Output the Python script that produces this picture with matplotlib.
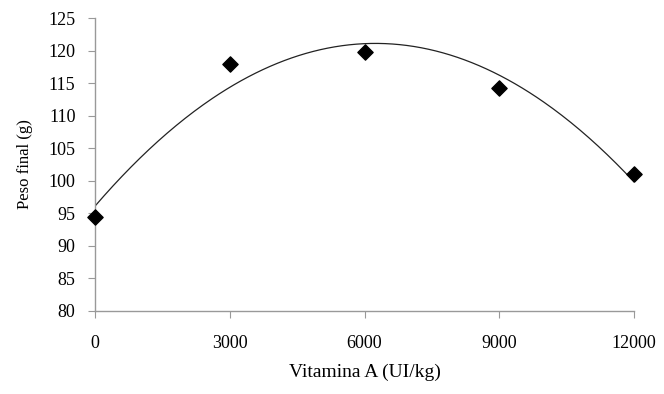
import numpy as np
import matplotlib
matplotlib.use('Agg')
import matplotlib.pyplot as plt

# Dados
vitamina_a = [0, 3000, 6000, 9000, 12000]
peso_final = [94.5, 118.0, 119.8, 114.3, 101.0]
x_ticks = [0, 3000, 6000, 9000, 12000]
y_ticks = list(range(80, 130, 5))

plt.rcParams['font.family'] = ['Liberation Serif', 'DejaVu Serif']

fig = plt.figure(figsize=(6.64, 3.94), dpi=100)
ax = fig.add_axes([0.143, 0.2107, 0.812, 0.7433])

# Ajuste polinomial de 2º grau (linha de tendência)
coef = np.polyfit(vitamina_a, peso_final, 2)
xs = np.linspace(min(vitamina_a), max(vitamina_a), 300)
ax.plot(xs, np.polyval(coef, xs), color='#222222', linewidth=0.9)

ax.scatter(vitamina_a, peso_final, marker='D', s=60, color='black', zorder=3, clip_on=False)

ax.set_xlim(0, 12000)
ax.set_ylim(80, 125)
ax.set_xticks(x_ticks)
ax.set_yticks(y_ticks)

for lado in ['top', 'right']:
    ax.spines[lado].set_visible(False)
for lado in ['left', 'bottom']:
    ax.spines[lado].set_color('#999999')
    ax.spines[lado].set_linewidth(1.0)

ax.tick_params(axis='x', direction='out', length=5, color='#999999', pad=12, labelsize=13)
ax.tick_params(axis='y', direction='out', length=5, color='#999999', pad=9, labelsize=13)

ax.set_xlabel('Vitamina A (UI/kg)', fontsize=14, labelpad=9)
ax.set_ylabel('Peso final (g)', fontsize=12, labelpad=11)

plt.savefig('out.png', dpi=100)
plt.close()
